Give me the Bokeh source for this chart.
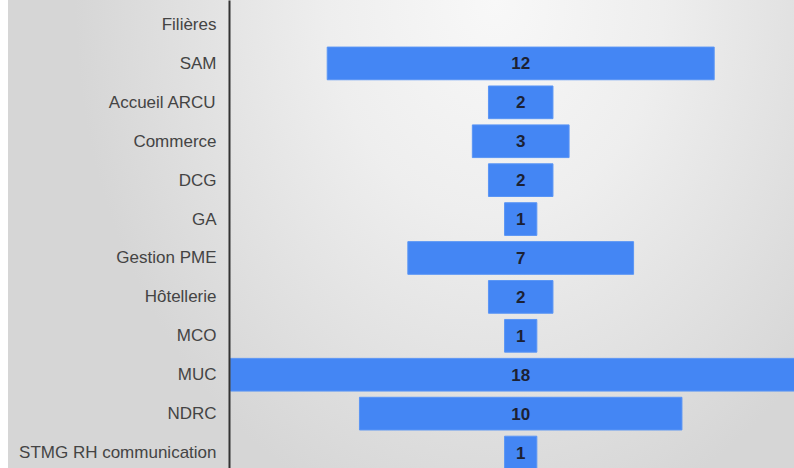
from bokeh.plotting import figure
from bokeh.models import ColumnDataSource, Range1d, FixedTicker
from bokeh.core.properties import value
from bokeh.embed import file_html
from bokeh.resources import INLINE

# ---- data ----
categories = ["Filières", "SAM", "Accueil ARCU", "Commerce", "DCG", "GA",
              "Gestion PME", "Hôtellerie", "MCO", "MUC", "NDRC",
              "STMG RH communication"]
counts = [0, 12, 2, 3, 2, 1, 7, 2, 1, 18, 10, 1]

idx = list(range(len(categories)))
bar_idx = [i for i, c in zip(idx, counts) if c > 0]
bar_vals = [c for c in counts if c > 0]

src = ColumnDataSource(dict(
    y=bar_idx,
    left=[-v / 2 for v in bar_vals],
    right=[v / 2 for v in bar_vals],
    x=[0] * len(bar_vals),
    label=[str(v) for v in bar_vals],
))

p = figure(width=794, height=468, output_backend="svg", toolbar_location=None,
           x_range=Range1d(-9.03, 8.49), y_range=Range1d(11.41, -0.617),
           min_border_left=229, min_border_right=0, min_border_top=0,
           min_border_bottom=0)

p.styles = {"background-image":
            "linear-gradient(to right, #ffffff 0px, #ffffff 8px, transparent 8px), "
            "radial-gradient(ellipse 420px 540px at 495px 0px, #f8f8f8 0%, #eeeeee 40%, #d6d6d6 100%)"}
p.background_fill_color = None
p.border_fill_color = None
p.outline_line_color = None

p.hbar(y="y", left="left", right="right", height=0.84, source=src,
       fill_color="#4486f4", line_color="#5a95f5", line_width=1)

p.text(x="x", y="y", text="label", source=src, text_align="center",
       text_baseline="middle", text_font=value("Liberation Sans"),
       text_font_style="bold", text_font_size="17px", text_color="#1c2133")

p.xaxis.visible = False
p.grid.visible = False

ya = p.yaxis[0]
ya.ticker = FixedTicker(ticks=idx)
ya.major_label_overrides = {i: c for i, c in zip(idx, categories)}
ya.axis_line_color = "#333333"
ya.axis_line_width = 2
ya.major_tick_line_color = None
ya.minor_tick_line_color = None
ya.major_label_standoff = 7
ya.major_label_text_font = "Liberation Sans"
ya.major_label_text_font_size = "17px"
ya.major_label_text_color = "#444444"

open("out.html", "w").write(file_html(p, INLINE))
